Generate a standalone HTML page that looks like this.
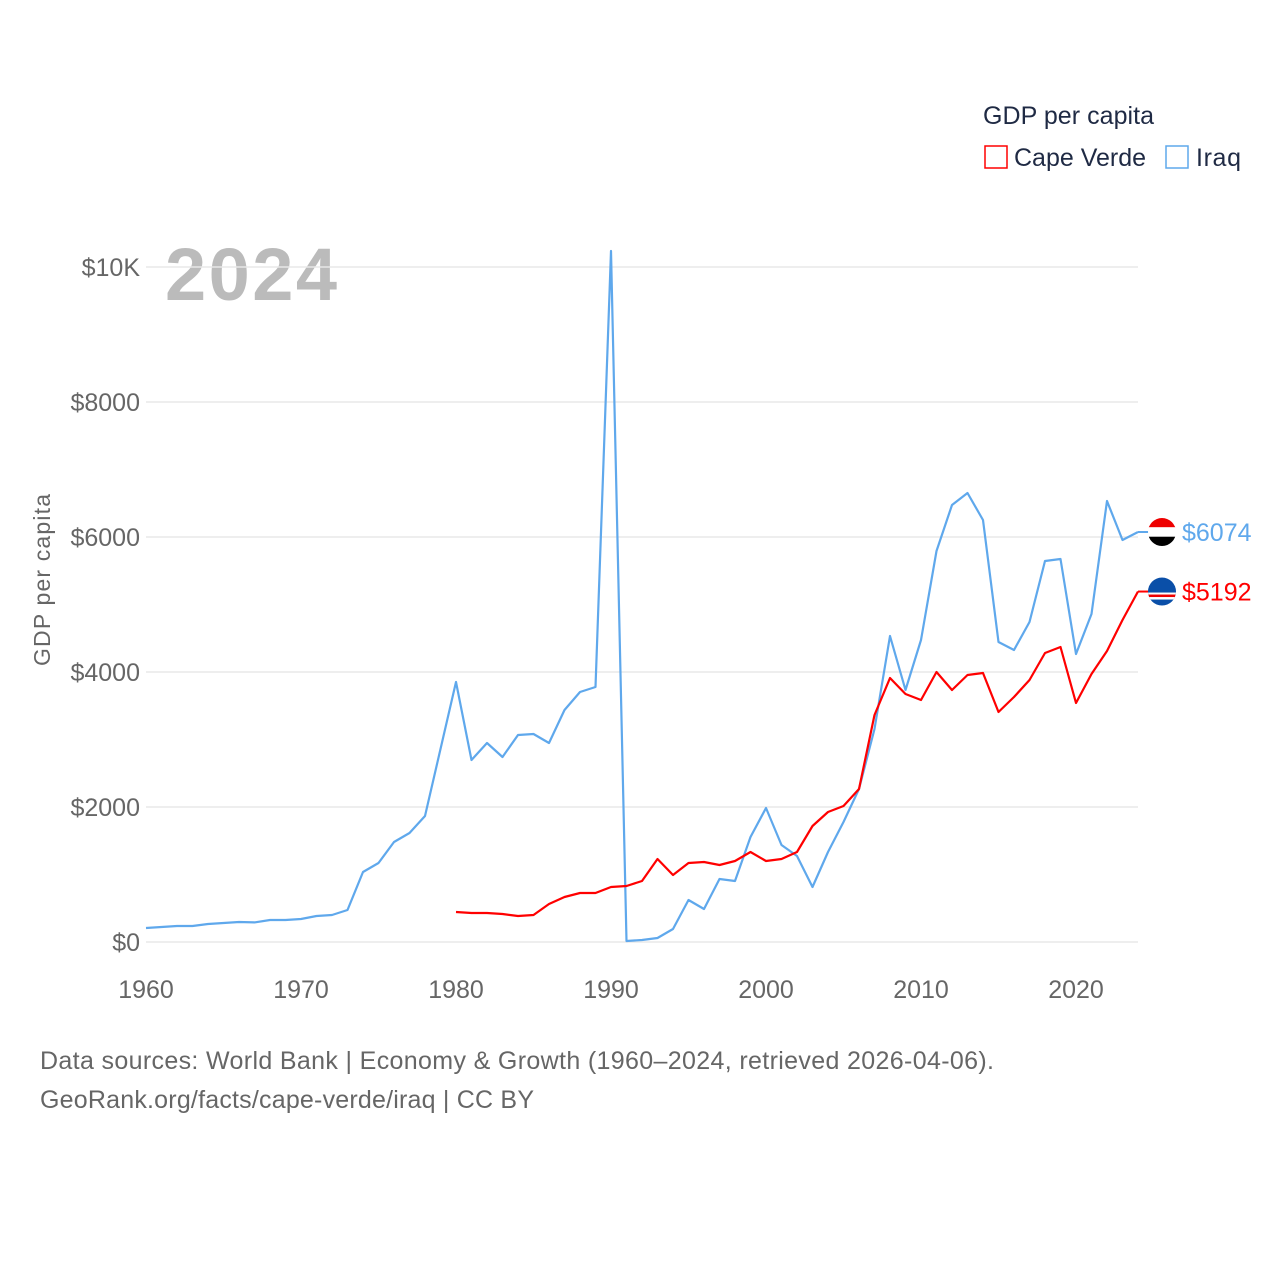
<!DOCTYPE html>
<html><head><meta charset="utf-8"><style>
body{margin:0;background:#fff;font-family:"Liberation Sans",sans-serif;}
svg text{font-family:"Liberation Sans",sans-serif;}
</style></head><body>
<svg width="1280" height="1280" viewBox="0 0 1280 1280">
<text x="983" y="124" font-size="25" fill="#1f2a44" textLength="171">GDP per capita</text>
<g><rect x="985" y="146" width="22" height="22" fill="none" stroke="#f00" stroke-width="1.5"/><text x="1014" y="166" font-size="25" fill="#1f2a44" textLength="132">Cape Verde</text></g>
<g><rect x="1166" y="146" width="22" height="22" fill="none" stroke="#5fa8ec" stroke-width="1.5"/><text x="1196" y="166" font-size="25" fill="#1f2a44" textLength="45">Iraq</text></g>
<text x="165" y="300" font-size="74" font-weight="bold" fill="#bbb" textLength="172">2024</text>
<g id="grid"></g>
<g id="yticks"></g>
<g id="xticks"></g>
<text transform="translate(50,580) rotate(-90)" text-anchor="middle" font-size="23" fill="#666" textLength="172">GDP per capita</text>
<g id="series"></g>
<text x="40" y="1069" font-size="25" fill="#666" textLength="954">Data sources: World Bank | Economy &amp; Growth (1960–2024, retrieved 2026-04-06).</text>
<text x="40" y="1108" font-size="25" fill="#666" textLength="494">GeoRank.org/facts/cape-verde/iraq | CC BY</text>
</svg>
<script>
const yTickValues=[0,2000,4000,6000,8000,10000];
const yTickLabels=["$0","$2000","$4000","$6000","$8000","$10K"];
const xTickValues=[1960,1970,1980,1990,2000,2010,2020];
const iraqStart=1960;
const iraqValues=[207,222,237,237,267,281,296,290,326,326,340,385,400,474,1037,1170,1481,1615,1867,2859,3852,2696,2948,2741,3067,3081,2948,3437,3704,3778,10237,15,30,60,193,622,489,933,904,1556,1985,1437,1274,815,1333,1778,2267,3156,4533,3733,4474,5793,6474,6652,6252,4444,4326,4741,5644,5674,4267,4859,6533,5956,6074];
const cvStart=1980;
const cvValues=[444,430,430,415,385,400,563,667,726,726,815,830,904,1230,993,1170,1185,1141,1200,1333,1200,1230,1333,1719,1926,2015,2267,3363,3911,3674,3585,4000,3733,3956,3985,3407,3630,3881,4281,4370,3541,3970,4311,4770,5192];
const NS="http://www.w3.org/2000/svg";
const xs=y=>146+(y-1960)*15.5;
const ys=v=>942-v*0.0675;
function mk(t,a,p){const e=document.createElementNS(NS,t);for(const k in a)e.setAttribute(k,a[k]);p.appendChild(e);return e;}
const grid=document.getElementById('grid'),yt=document.getElementById('yticks'),xt=document.getElementById('xticks'),se=document.getElementById('series');
yTickValues.forEach((v,i)=>{
 const l=mk('line',{x1:146,x2:1138,y1:ys(v),y2:ys(v),stroke:'#e8e8e8','stroke-width':1.5},grid);
 
 
 const t=mk('text',{x:140,y:ys(v)+9,'text-anchor':'end','font-size':25,fill:'#666'},yt);t.textContent=yTickLabels[i];
 
 
});
xTickValues.forEach(v=>{
 const t=mk('text',{x:xs(v),y:998,'text-anchor':'middle','font-size':25,fill:'#666'},xt);t.textContent=v;
 
 
});
function line(vals,start,color,name){
 const d=vals.map((v,i)=>(i?'L':'M')+xs(start+i).toFixed(1)+','+ys(v).toFixed(1)).join('');
 const p=mk('path',{d:d,fill:'none',stroke:color,'stroke-width':2.2,'stroke-linejoin':'round'},se);
 
 
}
line(iraqValues,iraqStart,'#5fa8ec','iraq-line');
line(cvValues,cvStart,'#f00','cape-verde-line');
function endLabel(vals,start,color,name,flag){
 const v=vals[vals.length-1],x=xs(start+vals.length-1),y=ys(v);
 mk('line',{x1:x,x2:1150,y1:y,y2:y,stroke:color,'stroke-width':2},se);
 const g=mk('g',{},se);
 
 
 if(flag==='iq'){
  mk('rect',{x:1148,y:y-14,width:28,height:9.3,fill:'#e00'},g);
  mk('rect',{x:1148,y:y-4.7,width:28,height:9.3,fill:'#fff'},g);
  mk('rect',{x:1148,y:y+4.7,width:28,height:9.3,fill:'#000'},g);
 }else{
  mk('rect',{x:1148,y:y-14,width:28,height:28,fill:'#0a4fa8'},g);
  mk('rect',{x:1148,y:y+1,width:28,height:7,fill:'#fff'},g);
  mk('rect',{x:1148,y:y+3,width:28,height:2.5,fill:'#e00'},g);
 }
 const c=mk('clipPath',{id:'c'+flag},se);mk('circle',{cx:1162,cy:y,r:14},c);
 g.setAttribute('clip-path','url(#c'+flag+')');
 const t=mk('text',{x:1182,y:y+9,'font-size':25,fill:color},se);t.textContent='$'+v;
 
 
}
endLabel(iraqValues,iraqStart,'#5fa8ec','iraq','iq');
endLabel(cvValues,cvStart,'#f00','cape-verde','cv');
</script>
</body></html>
